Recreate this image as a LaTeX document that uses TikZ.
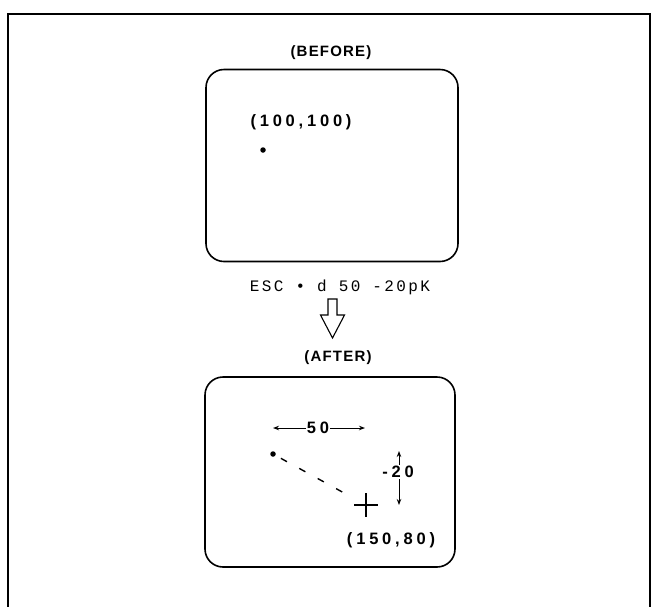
\documentclass[tikz,border=0pt]{standalone}
\usepackage{fontspec}
\setmainfont{Liberation Sans}
\newfontfamily\widefont[LetterSpace=23]{Liberation Sans}
\newfontfamily\capfont[LetterSpace=8]{Liberation Sans}
\newfontfamily\cmdfont[LetterSpace=15]{Liberation Mono}
\usetikzlibrary{arrows.meta,positioning}
\tikzset{
  screen/.style={
    draw,rectangle,rounded corners=18pt,line width=1.6pt,
    minimum width=252pt,minimum height=192pt,inner sep=0pt
  },
  caption/.style={font=\capfont\bfseries\fontsize{15}{15}\selectfont,inner sep=1pt},
  coordtext/.style={font=\widefont\bfseries\fontsize{16.5}{16.5}\selectfont,inner sep=1pt},
  pixel/.style={circle,fill,inner sep=0pt,minimum size=5.5pt},
  dim/.style={-{Stealth[length=6pt,width=4.5pt]},line width=1pt}
}

\begin{document}
\begin{tikzpicture}[x=1pt,y=-1pt]
\useasboundingbox (0,0) rectangle (652,606);

% page frame, open at the bottom
\draw[line width=1.8pt] (8,620) -- (8,14) -- (650,14) -- (650,620);

% before
\node[caption] (before) at (331,53) {(BEFORE)};
\node[screen] (scr1) at (332,165.5) {};
\node[coordtext] (p1) at (301,122) {(100,100)};
\node[pixel] (dot1) at (263,150) {};

% command
\node[font=\cmdfont\fontsize{16}{16}\selectfont,inner sep=1pt] (cmd) at (340,287)
  {ESC \textbullet\ d 50 -20pK};
\coordinate (tip) at (332.5,338);
\draw[line width=1.1pt,line join=miter]
  (tip) -- ++(-12,-23) -- ++(7.5,0) -- ++(0,-16) -- ++(9,0)
  -- ++(0,16) -- ++(7.5,0) -- cycle;

% after
\node[caption] (after) at (338,358) {(AFTER)};
\node[screen,minimum width=250pt,minimum height=190pt] (scr2) at (330,472) {};
\node[pixel] (dot2) at (273,454) {};
\node (cursor) at (366,505) {};
\draw[line width=1.4pt] (cursor.center) +(-12,0) -- +(12,0) +(0,-12) -- +(0,12);
\draw[line width=1.4pt,dash pattern=on 7pt off 14pt,dash phase=-4pt,shorten <=2pt,shorten >=15pt]
  (dot2) -- (cursor.center);

\node[coordtext] (dx) at (318,428) {50};
\coordinate (dxl) at (273,428);
\coordinate (dxr) at (365,428);
\draw[dim] (dx.west) -- (dxl);
\draw[dim] (dx.east) -- (dxr);

\node[coordtext] (dy) at (398,472) {-20};
\coordinate (dyu) at (399,451);
\coordinate (dyd) at (399,505);
\draw[dim] (dy.north -| dyu) -- (dyu);
\draw[dim] (dy.south -| dyd) -- (dyd);

\node[coordtext] (p2) at (391,540) {(150,80)};

\end{tikzpicture}
\end{document}
